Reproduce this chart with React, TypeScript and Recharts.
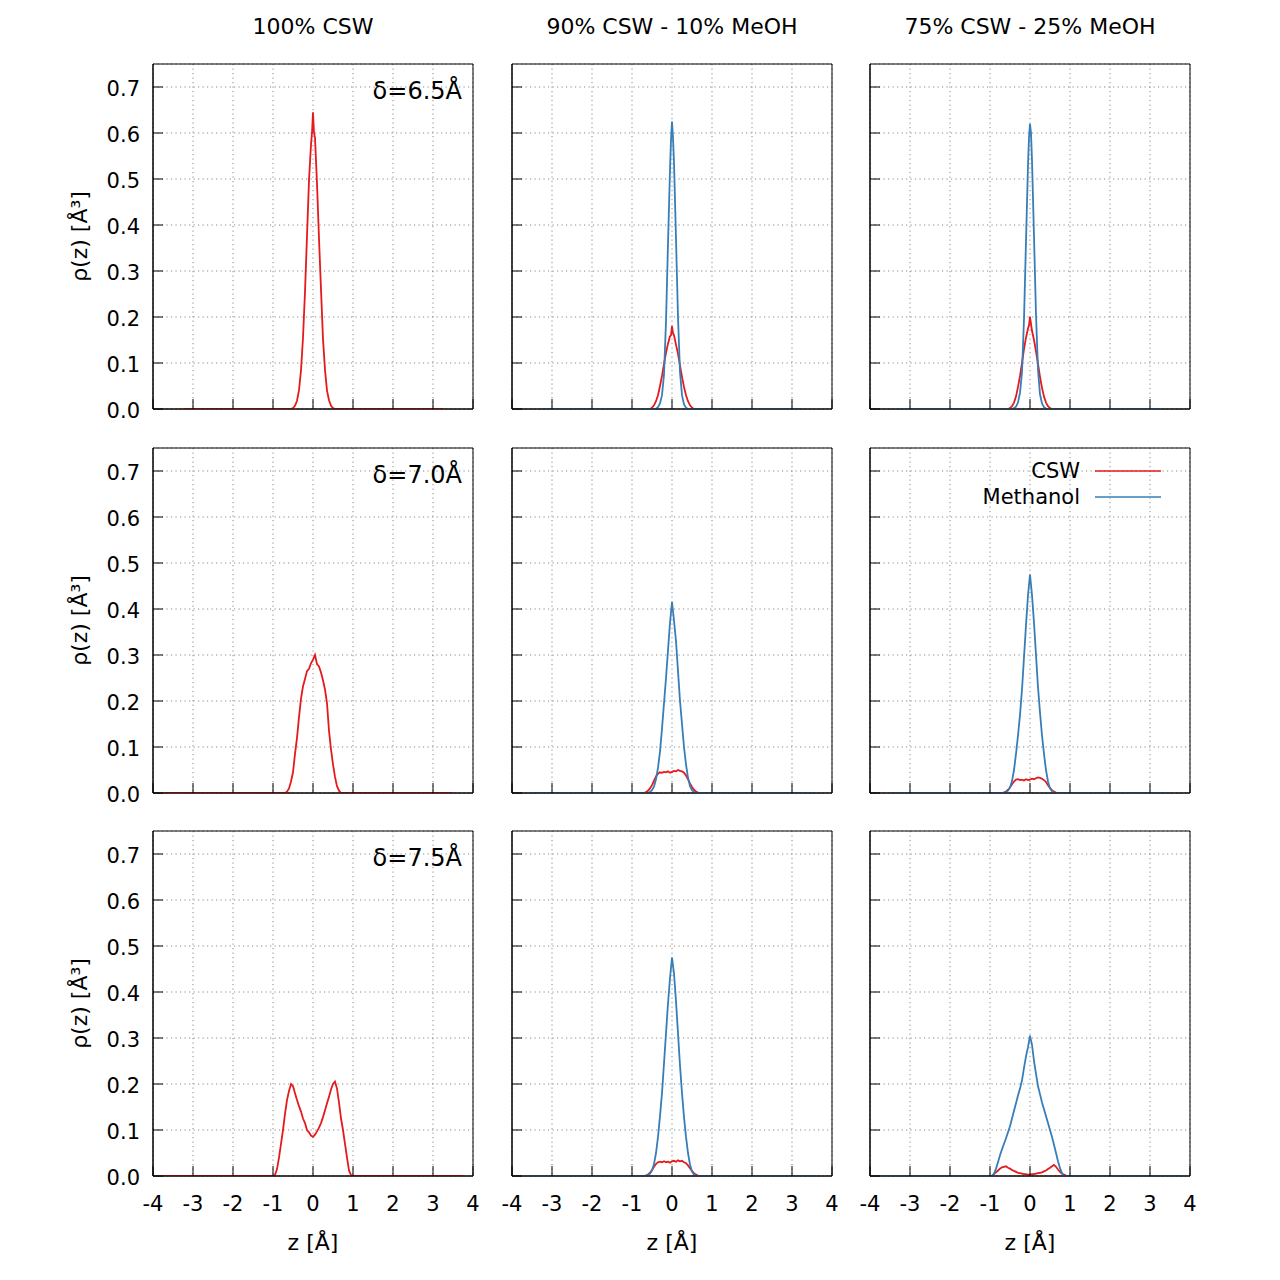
import React from 'react';
import { LineChart, Line, XAxis, YAxis, CartesianGrid, ReferenceArea, Legend } from 'recharts';

const FONT = "'DejaVu Sans', 'Liberation Sans', sans-serif";
const RED = '#e41a1c';
const BLUE = '#377eb8';

const COLUMN_TITLES = ['100% CSW', '90% CSW - 10% MeOH', '75% CSW - 25% MeOH'];
const ROW_LABELS = ['δ=6.5Å', 'δ=7.0Å', 'δ=7.5Å'];
const X_TICKS = [-4, -3, -2, -1, 0, 1, 2, 3, 4];
const Y_TICKS = [0, 0.1, 0.2, 0.3, 0.4, 0.5, 0.6, 0.7];
const X_LABEL = 'z [Å]';
const Y_LABEL = 'ρ(z) [Å³]';
const SERIES_NAMES = ['CSW', 'Methanol'];

// ---- z grids (Å) ----
const Z_A = [-3.25, -0.55, -0.5, -0.45, -0.4, -0.35, -0.3, -0.25, -0.2, -0.15, -0.1, -0.05, -0.025, 0,
  0.025, 0.05, 0.1, 0.15, 0.2, 0.25, 0.3, 0.35, 0.4, 0.45, 0.5, 0.55, 3.25];
const Z_B = [-3.75, -0.75, -0.7, -0.65, -0.6, -0.55, -0.5, -0.45, -0.4, -0.35, -0.3, -0.25, -0.2, -0.15, -0.1, -0.05, 0,
  0.05, 0.1, 0.15, 0.2, 0.25, 0.3, 0.35, 0.4, 0.45, 0.5, 0.55, 0.6, 0.65, 0.7, 0.75, 3.5];
const Z_C = [-3.5, -0.7, -0.65, -0.6, -0.55, -0.5, -0.45, -0.4, -0.35, -0.3, -0.25, -0.2, -0.15, -0.1, -0.05, 0,
  0.05, 0.1, 0.15, 0.2, 0.25, 0.3, 0.35, 0.4, 0.45, 0.5, 0.55, 0.6, 0.65, 0.7, 3.5];
const Z_D = [-3.75, -1.0, -0.95, -0.9, -0.85, -0.8, -0.75, -0.7, -0.65, -0.6, -0.55, -0.5, -0.45, -0.4, -0.35, -0.3,
  -0.25, -0.2, -0.15, -0.1, -0.05, 0, 0.05, 0.1, 0.15, 0.2, 0.25, 0.3, 0.35, 0.4, 0.45, 0.5, 0.55, 0.6, 0.65,
  0.7, 0.75, 0.8, 0.85, 0.9, 0.95, 1.0, 3.75];

// ---- δ = 6.5 Å ----
const CSW_100_65 = [0, 0, 0.002, 0.007, 0.018, 0.041, 0.084, 0.155, 0.255, 0.376, 0.497, 0.575, 0.6, 0.645,
  0.6, 0.59, 0.49, 0.37, 0.26, 0.152, 0.085, 0.04, 0.019, 0.007, 0.002, 0, 0];
const CSW_90_65 = [0, 0, 0.003, 0.008, 0.017, 0.03, 0.05, 0.072, 0.098, 0.122, 0.142, 0.158, 0.16, 0.18,
  0.165, 0.16, 0.14, 0.12, 0.095, 0.07, 0.048, 0.03, 0.017, 0.008, 0.003, 0, 0];
const MEOH_10_65 = [0, 0, 0, 0, 0.001, 0.004, 0.012, 0.03, 0.075, 0.19, 0.36, 0.52, 0.585, 0.625,
  0.59, 0.535, 0.37, 0.2, 0.08, 0.03, 0.01, 0.003, 0, 0, 0, 0, 0];
const CSW_75_65 = [0, 0, 0.002, 0.006, 0.014, 0.027, 0.048, 0.072, 0.1, 0.13, 0.155, 0.175, 0.182, 0.2,
  0.185, 0.17, 0.15, 0.125, 0.098, 0.07, 0.046, 0.027, 0.014, 0.006, 0.002, 0, 0];
const MEOH_25_65 = [0, 0, 0, 0, 0.002, 0.005, 0.014, 0.035, 0.08, 0.195, 0.365, 0.53, 0.59, 0.62,
  0.6, 0.54, 0.375, 0.205, 0.085, 0.032, 0.012, 0.004, 0.001, 0, 0, 0, 0];

// ---- δ = 7.0 Å ----
const CSW_100_70 = [0, 0, 0, 0.003, 0.01, 0.025, 0.045, 0.085, 0.12, 0.165, 0.205, 0.232, 0.248, 0.265, 0.27, 0.282, 0.29,
  0.3, 0.28, 0.275, 0.262, 0.245, 0.225, 0.195, 0.135, 0.095, 0.062, 0.035, 0.015, 0.005, 0, 0, 0];
const CSW_90_70 = [0, 0, 0.002, 0.005, 0.01, 0.017, 0.027, 0.036, 0.042, 0.045, 0.044, 0.046, 0.045, 0.047, 0.044, 0.046,
  0.048, 0.047, 0.05, 0.048, 0.047, 0.044, 0.038, 0.03, 0.021, 0.013, 0.007, 0.003, 0.001, 0, 0];
const MEOH_10_70 = [0, 0, 0, 0, 0.002, 0.006, 0.014, 0.03, 0.055, 0.09, 0.14, 0.195, 0.25, 0.31, 0.37, 0.415,
  0.375, 0.33, 0.265, 0.2, 0.15, 0.1, 0.062, 0.033, 0.015, 0.006, 0.002, 0, 0, 0, 0];
const CSW_75_70 = [0, 0, 0.001, 0.003, 0.007, 0.012, 0.019, 0.025, 0.029, 0.03, 0.028, 0.029, 0.027, 0.03, 0.028, 0.029,
  0.031, 0.03, 0.032, 0.034, 0.033, 0.031, 0.028, 0.024, 0.017, 0.011, 0.006, 0.003, 0.001, 0, 0];
const MEOH_25_70 = [0, 0, 0.001, 0.002, 0.005, 0.012, 0.026, 0.05, 0.085, 0.125, 0.17, 0.225, 0.295, 0.365, 0.43, 0.475,
  0.43, 0.37, 0.3, 0.23, 0.175, 0.125, 0.085, 0.05, 0.025, 0.01, 0.004, 0.001, 0, 0, 0];

// ---- δ = 7.5 Å ----
const CSW_100_75 = [0, 0, 0.002, 0.015, 0.04, 0.07, 0.1, 0.135, 0.165, 0.185, 0.2, 0.195, 0.18, 0.165, 0.152, 0.14,
  0.125, 0.115, 0.1, 0.095, 0.088, 0.085, 0.09, 0.097, 0.105, 0.115, 0.128, 0.143, 0.158, 0.172, 0.188, 0.2, 0.205,
  0.19, 0.16, 0.125, 0.1, 0.07, 0.04, 0.012, 0.002, 0, 0];
const CSW_90_75 = [0, 0, 0.001, 0.003, 0.007, 0.013, 0.02, 0.026, 0.03, 0.031, 0.03, 0.032, 0.03, 0.031, 0.029, 0.032,
  0.033, 0.031, 0.034, 0.032, 0.033, 0.03, 0.028, 0.023, 0.017, 0.011, 0.006, 0.003, 0.001, 0, 0];
const MEOH_10_75 = [0, 0, 0.001, 0.002, 0.005, 0.012, 0.026, 0.05, 0.085, 0.13, 0.18, 0.245, 0.31, 0.375, 0.43, 0.475,
  0.44, 0.38, 0.31, 0.24, 0.18, 0.128, 0.085, 0.05, 0.025, 0.01, 0.003, 0.001, 0, 0, 0];
const CSW_75_75 = [0, 0, 0.001, 0.004, 0.008, 0.012, 0.016, 0.019, 0.02, 0.021, 0.018, 0.016, 0.013, 0.011, 0.009, 0.007,
  0.006, 0.005, 0.004, 0.004, 0.003, 0.003, 0.004, 0.004, 0.005, 0.006, 0.007, 0.008, 0.01, 0.012, 0.015, 0.018, 0.021,
  0.024, 0.02, 0.014, 0.009, 0.005, 0.003, 0.001, 0, 0, 0];
const MEOH_25_75 = [0, 0, 0, 0.005, 0.016, 0.03, 0.045, 0.058, 0.07, 0.082, 0.095, 0.108, 0.125, 0.142, 0.158, 0.175,
  0.19, 0.208, 0.235, 0.26, 0.28, 0.305, 0.285, 0.25, 0.222, 0.195, 0.178, 0.16, 0.145, 0.13, 0.115, 0.1, 0.085,
  0.068, 0.05, 0.032, 0.017, 0.006, 0.001, 0, 0, 0, 0];

// ---- layout ----
const PLOT_LEFT = [153, 512, 870];
const PLOT_TOP = [64, 448, 831];
const PLOT_W = 320;
const PLOT_H = 345;
const YAXIS_W = 148;
const XAXIS_H = 130;
const M_TOP = 10;
const M_RIGHT = 10;

type PanelDef = {
  row: number;
  col: number;
  z: number[];
  csw: number[];
  meoh?: number[];
  legend?: boolean;
};

const PANELS: PanelDef[] = [
  { row: 0, col: 0, z: Z_A, csw: CSW_100_65 },
  { row: 0, col: 1, z: Z_A, csw: CSW_90_65, meoh: MEOH_10_65 },
  { row: 0, col: 2, z: Z_A, csw: CSW_75_65, meoh: MEOH_25_65 },
  { row: 1, col: 0, z: Z_B, csw: CSW_100_70 },
  { row: 1, col: 1, z: Z_C, csw: CSW_90_70, meoh: MEOH_10_70 },
  { row: 1, col: 2, z: Z_C, csw: CSW_75_70, meoh: MEOH_25_70, legend: true },
  { row: 2, col: 0, z: Z_D, csw: CSW_100_75 },
  { row: 2, col: 1, z: Z_C, csw: CSW_90_75, meoh: MEOH_10_75 },
  { row: 2, col: 2, z: Z_D, csw: CSW_75_75, meoh: MEOH_25_75 },
];

const renderLegend = (props: any) => {
  const items = (props && props.payload) || [];
  return (
    <div style={{ fontFamily: FONT, fontSize: 21, color: '#000' }}>
      {items.map((it: any, i: number) => (
        <div
          key={i}
          style={{ display: 'flex', alignItems: 'center', justifyContent: 'flex-end', height: 26, lineHeight: '26px' }}
        >
          <span>{it.value}</span>
          <svg width={66} height={4} style={{ marginLeft: 15, display: 'block' }}>
            <line x1={0} y1={2} x2={66} y2={2} stroke={it.color} strokeWidth={1.5} />
          </svg>
        </div>
      ))}
    </div>
  );
};

const hideLabel = () => '';

function Panel({ p }: { p: PanelDef }) {
  const cswData = p.z.map((z, i) => ({ z, v: p.csw[i] }));
  const meohData = p.meoh ? p.z.map((z, i) => ({ z, v: (p.meoh as number[])[i] })) : null;
  const showX = p.row === 2;
  const showY = p.col === 0;
  const tickStyle = { fill: '#000', fontSize: 21, fontFamily: FONT };
  return (
    <div style={{ position: 'absolute', left: PLOT_LEFT[p.col] - YAXIS_W, top: PLOT_TOP[p.row] - M_TOP }}>
      <LineChart
        width={YAXIS_W + PLOT_W + M_RIGHT}
        height={M_TOP + PLOT_H + XAXIS_H}
        margin={{ top: M_TOP, right: M_RIGHT, left: 0, bottom: 0 }}
        style={{ fontFamily: FONT }}
      >
        <CartesianGrid stroke="#888888" strokeDasharray="1.2 3.3" />
        <XAxis
          type="number"
          dataKey="z"
          domain={[-4, 4]}
          ticks={X_TICKS}
          allowDataOverflow
          interval={0}
          height={XAXIS_H}
          tickSize={-10}
          tickMargin={30}
          tick={tickStyle}
          tickFormatter={showX ? (v: number) => String(v) : hideLabel}
          axisLine={{ stroke: '#000' }}
          tickLine={{ stroke: '#000' }}
          label={showX ? { value: X_LABEL, position: 'center', fill: '#000', fontSize: 22, fontFamily: FONT, dy: 1 } : undefined}
        />
        <YAxis
          type="number"
          domain={[0, 0.75]}
          ticks={Y_TICKS}
          allowDataOverflow
          interval={0}
          width={YAXIS_W}
          tickSize={-10}
          tickMargin={23}
          tickFormatter={showY ? (v: number) => v.toFixed(1) : hideLabel}
          tick={{ ...tickStyle, dy: 2 }}
          axisLine={{ stroke: '#000' }}
          tickLine={{ stroke: '#000' }}
          label={showY ? { value: Y_LABEL, position: 'center', angle: -90, fill: '#000', fontSize: 22, fontFamily: FONT } : undefined}
        />
        <Line
          data={cswData}
          dataKey="v"
          name={SERIES_NAMES[0]}
          type="linear"
          stroke={RED}
          strokeWidth={1.8}
          dot={false}
          activeDot={false}
          isAnimationActive={false}
        />
        {meohData && (
          <Line
            data={meohData}
            dataKey="v"
            name={SERIES_NAMES[1]}
            type="linear"
            stroke={BLUE}
            strokeWidth={1.8}
            dot={false}
            activeDot={false}
            isAnimationActive={false}
          />
        )}
        <ReferenceArea
          x1={-4}
          x2={4}
          y1={0}
          y2={0.75}
          fill="none"
          fillOpacity={0}
          stroke="#000"
          strokeWidth={1}
          ifOverflow="visible"
          label={
            p.col === 0
              ? { value: ROW_LABELS[p.row], position: 'insideTopRight', offset: 11, dy: 7, fill: '#000', fontSize: 24, fontFamily: FONT }
              : undefined
          }
        />
        {p.legend && (
          <Legend
            layout="vertical"
            align="center"
            verticalAlign="middle"
            content={renderLegend}
            wrapperStyle={{ top: 20, right: 39, width: 'auto' }}
          />
        )}
      </LineChart>
    </div>
  );
}

export default function App() {
  return (
    <div style={{ position: 'absolute', left: 0, top: 0, width: 1280, height: 1280, background: '#fff', fontFamily: FONT }}>
      {COLUMN_TITLES.map((t, i) => (
        <div
          key={t}
          style={{
            position: 'absolute',
            left: PLOT_LEFT[i],
            top: 16,
            width: PLOT_W,
            textAlign: 'center',
            fontSize: 22,
            lineHeight: '22px',
            color: '#000',
            whiteSpace: 'nowrap',
          }}
        >
          {t}
        </div>
      ))}
      {PANELS.map((p, i) => (
        <Panel key={i} p={p} />
      ))}
    </div>
  );
}
